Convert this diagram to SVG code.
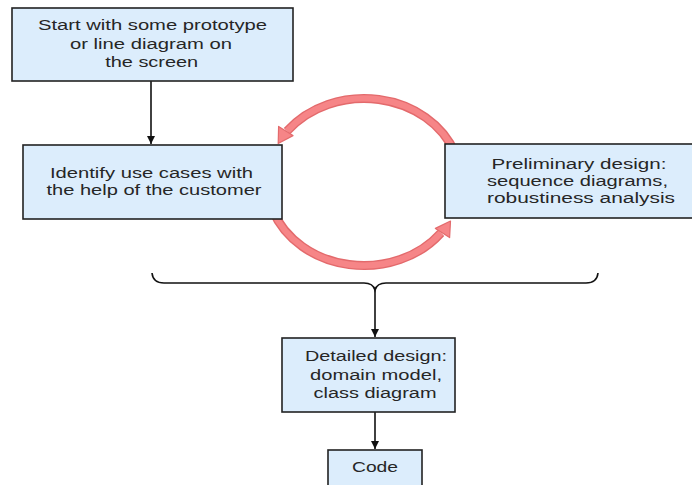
<svg xmlns="http://www.w3.org/2000/svg" width="692" height="485" viewBox="0 0 692 485">
  <style>
    .box { fill: #dcedfc; stroke: #222; stroke-width: 1.6; }
    .lbl { font-family: "Liberation Sans", Arial, sans-serif; font-size: 14px; fill: #262626; text-anchor: middle; }
    .line { fill: none; stroke: #111; stroke-width: 1.6; }
    .loop-edge { fill: none; stroke: #e36a6c; stroke-width: 9; }
    .loop-core { fill: none; stroke: #f68587; stroke-width: 6.2; }
    .loop-head { fill: #f68587; stroke: #e36a6c; stroke-width: 1.2; stroke-linejoin: round; }
  </style>
  <defs>
    <marker id="arrow" viewBox="0 0 10 10" refX="10" refY="5" markerWidth="8" markerHeight="8" markerUnits="userSpaceOnUse" orient="auto">
      <path d="M0,0 L10,5 L0,10 z" fill="#111"/>
    </marker>
  </defs>
  <rect width="692" height="485" fill="#fff"/>

  <!-- connectors -->
  <g id="connectors">
    <!-- iteration loop between use cases and preliminary design -->
    <path class="loop-edge" d="M455.2,153.4 A97 83.5 0 0 0 287.1,131.1"/>
    <path class="loop-core" d="M455.2,153.4 A97 83.5 0 0 0 287.1,131.1"/>
    <polygon class="loop-head" points="278.2,143.5 293,135.6 278.6,126.4"/>
    <path class="loop-edge" d="M272.8,210.6 A97 83.5 0 0 0 440.9,232.9"/>
    <path class="loop-core" d="M272.8,210.6 A97 83.5 0 0 0 440.9,232.9"/>
    <polygon class="loop-head" points="450.5,221 435.4,228.4 449.6,237.6"/>

    <line class="line" x1="151" y1="81" x2="151" y2="144" marker-end="url(#arrow)"/>
    <!-- brace gathering the loop -->
    <path class="line" d="M152,273 Q153,283 164,283 H364 Q373,283 375,290 Q377,283 386,283 H586 Q597,283 598,273"/>
    <line class="line" x1="375" y1="290" x2="375" y2="337" marker-end="url(#arrow)"/>
    <line class="line" x1="375" y1="412" x2="375" y2="449" marker-end="url(#arrow)"/>
  </g>

  <g id="start">
    <rect class="box" x="12" y="8" width="281" height="73"/>
    <text class="lbl" x="152.5" y="30" textLength="229" lengthAdjust="spacingAndGlyphs">Start with some prototype</text>
    <text class="lbl" x="151" y="49" textLength="162" lengthAdjust="spacingAndGlyphs">or line diagram on</text>
    <text class="lbl" x="151.7" y="67" textLength="93" lengthAdjust="spacingAndGlyphs">the screen</text>
  </g>

  <g id="use-cases">
    <rect class="box" x="23" y="145" width="259" height="74"/>
    <text class="lbl" x="151.5" y="178" textLength="203" lengthAdjust="spacingAndGlyphs">Identify use cases with</text>
    <text class="lbl" x="154" y="195" textLength="215" lengthAdjust="spacingAndGlyphs">the help of the customer</text>
  </g>

  <g id="preliminary-design">
    <rect class="box" x="445" y="144" width="260" height="74"/>
    <text class="lbl" x="579" y="169" textLength="175" lengthAdjust="spacingAndGlyphs">Preliminary design:</text>
    <text class="lbl" x="577.5" y="185.5" textLength="181" lengthAdjust="spacingAndGlyphs">sequence diagrams,</text>
    <text class="lbl" x="581" y="203" textLength="188" lengthAdjust="spacingAndGlyphs">robustiness analysis</text>
  </g>

  <g id="detailed-design">
    <rect class="box" x="282" y="338" width="173" height="74"/>
    <text class="lbl" x="376" y="361" textLength="142" lengthAdjust="spacingAndGlyphs">Detailed design:</text>
    <text class="lbl" x="376" y="380" textLength="132" lengthAdjust="spacingAndGlyphs">domain model,</text>
    <text class="lbl" x="375" y="398" textLength="123" lengthAdjust="spacingAndGlyphs">class diagram</text>
  </g>

  <g id="code">
    <rect class="box" x="328" y="450" width="94" height="50"/>
    <text class="lbl" x="375" y="472" textLength="46" lengthAdjust="spacingAndGlyphs">Code</text>
  </g>
</svg>
